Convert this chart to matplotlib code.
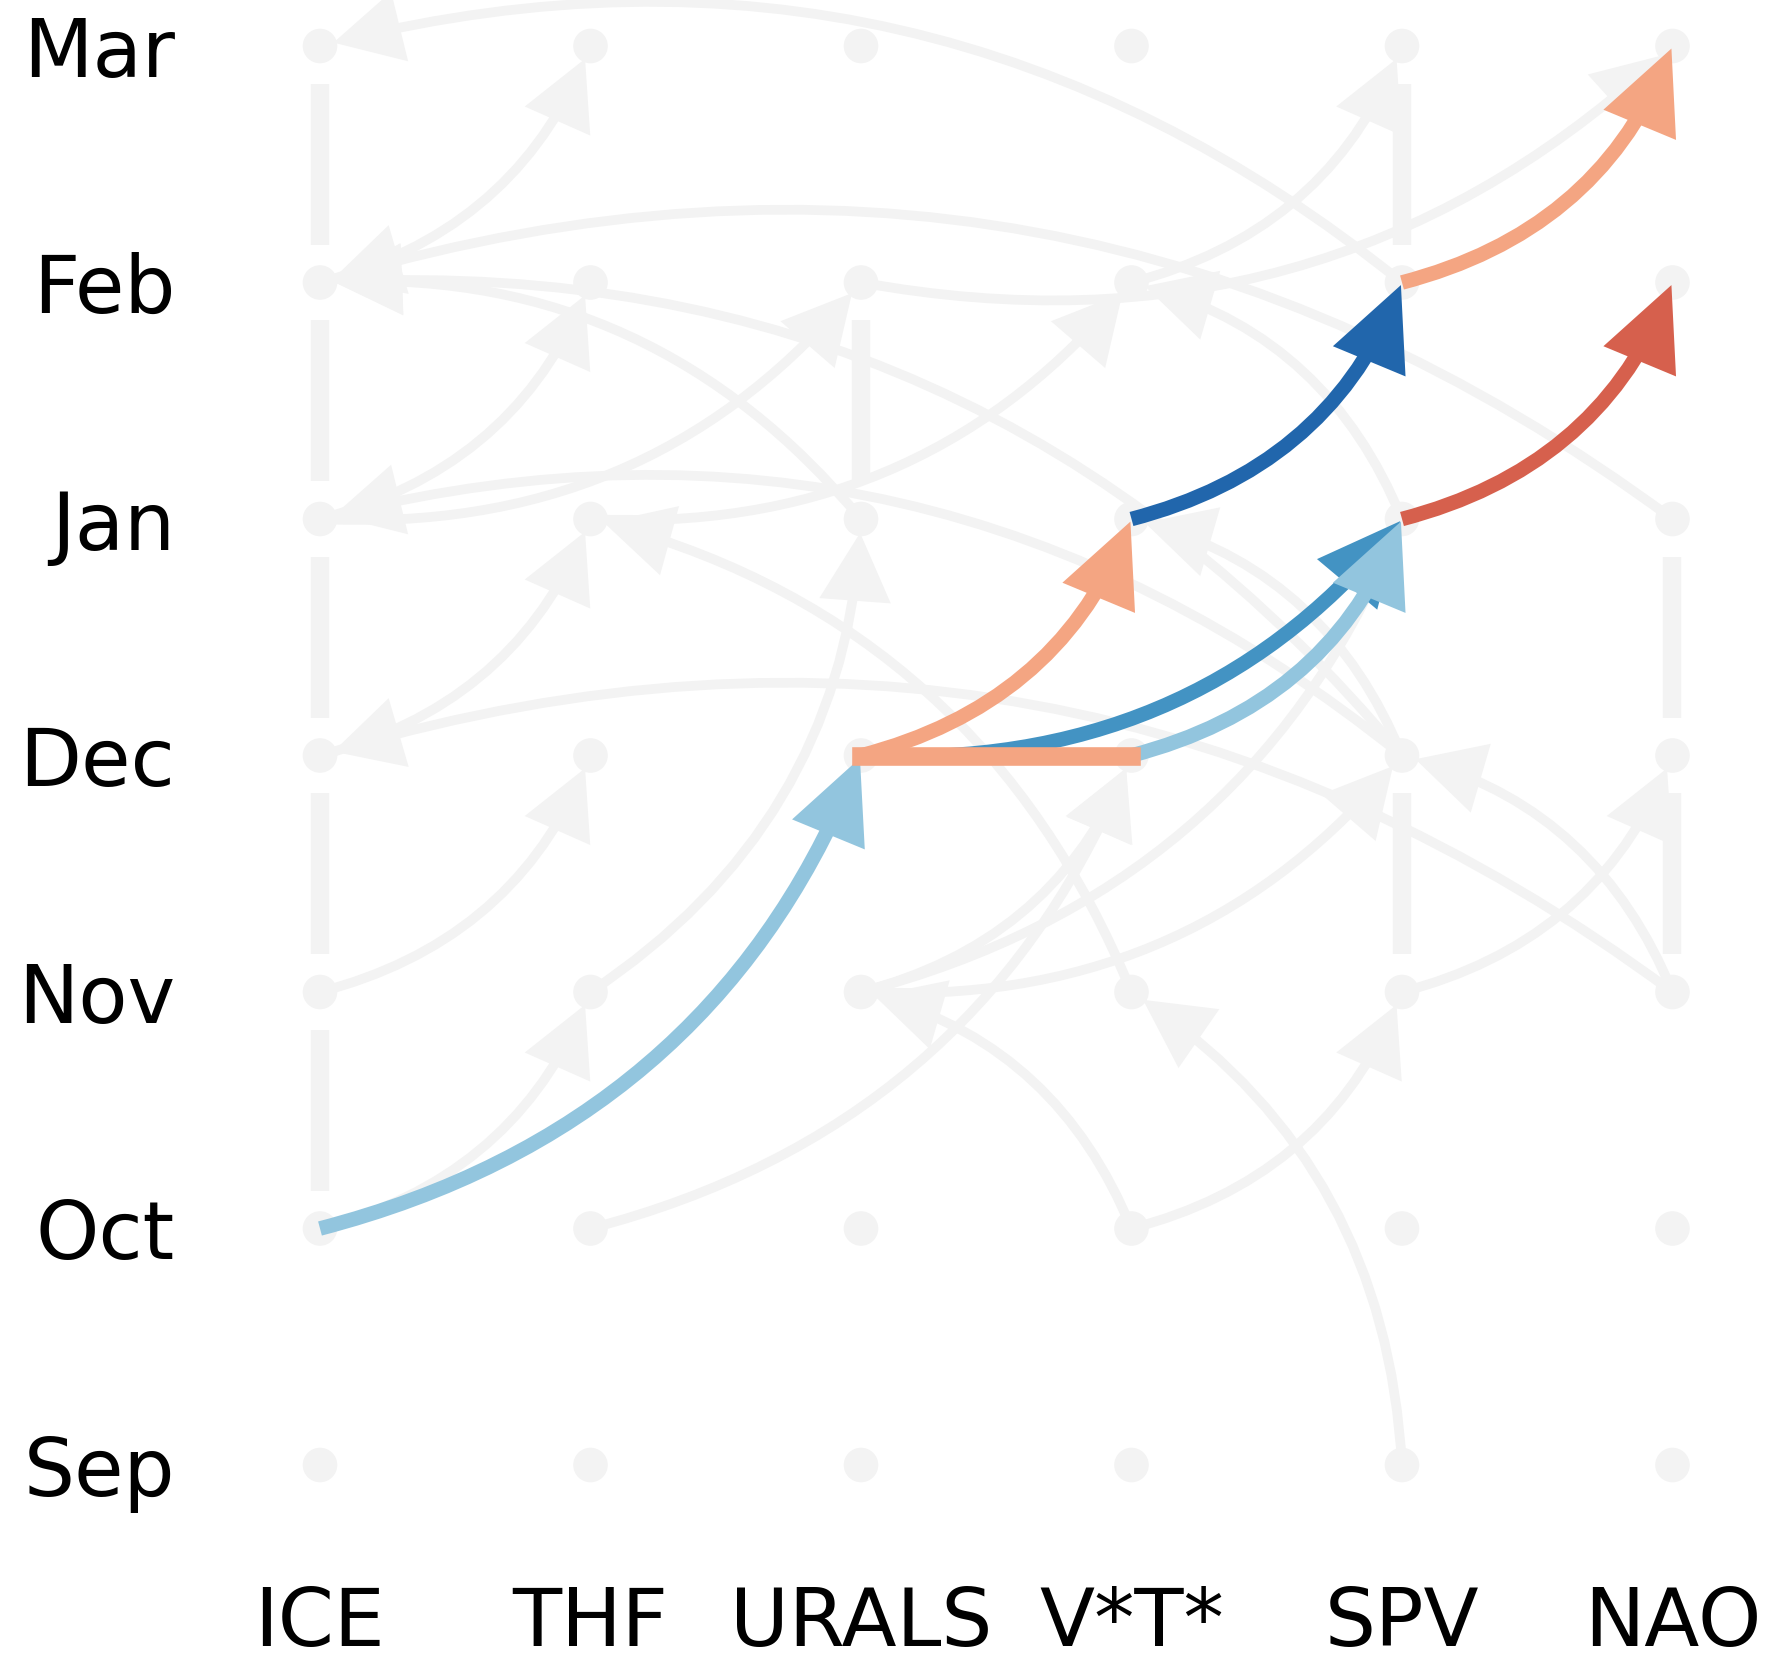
import matplotlib
matplotlib.use('Agg')
import matplotlib.pyplot as plt
from matplotlib.patches import FancyArrowPatch

# ---------------- data ----------------
variables = ['ICE', 'THF', 'URALS', 'V*T*', 'SPV', 'NAO']
months = ['Sep', 'Oct', 'Nov', 'Dec', 'Jan', 'Feb', 'Mar']

# lagged links that are drawn in light grey: (source var, source month, target var, target month)
grey_links = [
    ('SPV', 'Feb', 'ICE', 'Mar'),
    ('ICE', 'Feb', 'THF', 'Mar'),
    ('NAO', 'Jan', 'ICE', 'Feb'),
    ('SPV', 'Dec', 'ICE', 'Feb'),
    ('URALS', 'Jan', 'ICE', 'Feb'),
    ('ICE', 'Jan', 'THF', 'Feb'),
    ('ICE', 'Jan', 'URALS', 'Feb'),
    ('THF', 'Jan', 'V*T*', 'Feb'),
    ('SPV', 'Dec', 'ICE', 'Jan'),
    ('ICE', 'Dec', 'THF', 'Jan'),
    ('NAO', 'Nov', 'ICE', 'Dec'),
    ('ICE', 'Nov', 'THF', 'Dec'),
    ('ICE', 'Oct', 'THF', 'Nov'),
    ('V*T*', 'Nov', 'THF', 'Jan'),
    ('THF', 'Nov', 'URALS', 'Jan'),
    ('V*T*', 'Oct', 'URALS', 'Nov'),
    ('SPV', 'Sep', 'V*T*', 'Nov'),
    ('NAO', 'Nov', 'SPV', 'Dec'),
    ('URALS', 'Nov', 'SPV', 'Dec'),
    ('URALS', 'Nov', 'V*T*', 'Dec'),
    ('THF', 'Oct', 'V*T*', 'Dec'),
    ('V*T*', 'Oct', 'SPV', 'Nov'),
    ('SPV', 'Nov', 'NAO', 'Dec'),
    ('V*T*', 'Feb', 'SPV', 'Mar'),
    ('URALS', 'Feb', 'NAO', 'Mar'),
    ('SPV', 'Jan', 'V*T*', 'Feb'),
    ('SPV', 'Dec', 'V*T*', 'Jan'),
    ('URALS', 'Nov', 'SPV', 'Jan'),
]

# autodependency links (variable, earlier month, later month)
auto_links = [
    ('ICE', 'Oct', 'Nov'), ('ICE', 'Nov', 'Dec'), ('ICE', 'Dec', 'Jan'),
    ('ICE', 'Jan', 'Feb'), ('ICE', 'Feb', 'Mar'),
    ('URALS', 'Jan', 'Feb'),
    ('SPV', 'Nov', 'Dec'), ('SPV', 'Feb', 'Mar'),
    ('NAO', 'Nov', 'Dec'), ('NAO', 'Dec', 'Jan'),
]

# significant lagged links with their link-strength colour
sig_links = [
    ('ICE', 'Oct', 'URALS', 'Dec', '#92c5de'),
    ('URALS', 'Dec', 'SPV', 'Jan', '#4393c3'),
    ('V*T*', 'Dec', 'SPV', 'Jan', '#92c5de'),
    ('V*T*', 'Jan', 'SPV', 'Feb', '#2166ac'),
    ('SPV', 'Jan', 'NAO', 'Feb', '#d6604d'),
    ('SPV', 'Feb', 'NAO', 'Mar', '#f4a582'),
]
# significant contemporaneous link
contemp_links = [('URALS', 'V*T*', 'Dec', '#f4a582')]
late_links = [('URALS', 'Dec', 'V*T*', 'Jan', '#f4a582')]

GREY = '#f3f3f3'

# ---------------- figure ----------------
fig = plt.figure(figsize=(17.67, 16.64), dpi=100)
ax = fig.add_axes([0, 0, 1, 1])
ax.set_xlim(-1.183, 5.3494)
ax.set_ylim(-0.8414, 6.1945)
ax.axis('off')

vx = {v: i for i, v in enumerate(variables)}
my = {m: i for i, m in enumerate(months)}

RAD = 0.25


def arrow(s, sm, t, tm, color, lw, hl, hw, shrinkB, z):
    p = FancyArrowPatch((vx[s], my[sm]), (vx[t], my[tm]),
                        connectionstyle=f'arc3,rad={RAD}',
                        arrowstyle=f'-|>,head_length={hl},head_width={hw}',
                        mutation_scale=1, color=color, lw=lw,
                        shrinkA=0, shrinkB=shrinkB, zorder=z,
                        joinstyle='miter', capstyle='butt')
    ax.add_patch(p)


for s, sm, t, tm in grey_links:
    arrow(s, sm, t, tm, GREY, 7, 38, 20, 10, 1)

gap = 0.16
for v, m0, m1 in auto_links:
    ax.plot([vx[v], vx[v]], [my[m0] + gap, my[m1] - gap], color=GREY, lw=13.3,
            solid_capstyle='butt', zorder=1)

xs = [vx[v] for v in variables for m in months]
ys = [my[m] for v in variables for m in months]
ax.scatter(xs, ys, s=620, color=GREY, edgecolors='none', zorder=2)

for s, sm, t, tm, c in sig_links:
    arrow(s, sm, t, tm, c, 10.5, 42, 20, 2, 3)

for a, b, m, c in contemp_links:
    ax.plot([vx[a], vx[b]], [my[m], my[m]], color=c, lw=13.4,
            solid_capstyle='projecting', zorder=4)

for s, sm, t, tm, c in late_links:
    arrow(s, sm, t, tm, c, 10.5, 42, 20, 2, 5)

for m in months:
    ax.text(-0.536, my[m] - 0.129, m, ha='right', va='baseline', fontsize=58,
            family='DejaVu Sans')
for v in variables:
    ax.text(vx[v], -0.765, v, ha='center', va='baseline', fontsize=58,
            family='DejaVu Sans')

fig.savefig('out.png', dpi=100)
